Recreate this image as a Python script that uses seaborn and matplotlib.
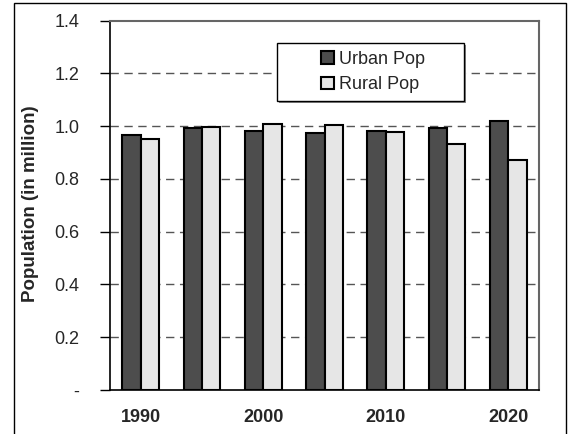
import matplotlib
matplotlib.use("Agg")
import matplotlib.pyplot as plt
import seaborn as sns
import pandas as pd
from matplotlib.patches import Rectangle
from matplotlib.ticker import FuncFormatter, FixedLocator

years = ["1990", "1995", "2000", "2005", "2010", "2015", "2020"]
tick_labels = ["1990", "", "2000", "", "2010", "", "2020"]
urban = [0.967, 0.992, 0.980, 0.975, 0.980, 0.994, 1.018]
rural = [0.952, 0.997, 1.010, 1.004, 0.977, 0.934, 0.872]
series = ["Urban Pop", "Rural Pop"]

df = pd.DataFrame({
    "year": years * 2,
    "value": urban + rural,
    "series": [series[0]] * len(years) + [series[1]] * len(years),
})

sns.set_style("white")
plt.rcParams["font.family"] = ["Liberation Sans", "DejaVu Sans"]

fig = plt.figure(figsize=(5.69, 4.34), dpi=100)
ax = fig.add_axes([110/569, 1 - 390/434, 429/569, (390-20.7)/434])

sns.barplot(data=df, x="year", y="value", hue="series", order=years,
            hue_order=series, palette=["#4d4d4d", "#e6e6e6"], width=0.6,
            edgecolor="black", linewidth=1.5, ax=ax, zorder=3, gap=0)

ax.set_xlim(-0.5, 6.5)
ax.set_ylim(0, 1.4)
ax.yaxis.set_major_locator(FixedLocator([0, 0.2, 0.4, 0.6, 0.8, 1.0, 1.2, 1.4]))
ax.yaxis.set_major_formatter(FuncFormatter(lambda v, p: "-" if abs(v) < 1e-9 else f"{v:.1f}"))
for yv in [0.2, 0.4, 0.6, 0.8, 1.0, 1.2]:
    ax.axhline(yv, color="#555555", linestyle=(0, (6, 4)), linewidth=1, zorder=1)

ax.set_xticks(range(len(years)))
ax.set_xticklabels(tick_labels, fontweight="bold", fontsize=13)
ax.tick_params(axis="x", length=0, pad=14)
ax.tick_params(axis="y", length=7, width=1, direction="out", labelsize=13, pad=15, left=True, color="black")
ax.set_xlabel("")
ax.set_ylabel("Population (in million)", fontweight="bold", fontsize=13.5)
ax.yaxis.set_label_coords(-0.165, 0.505)

for s in ["left", "bottom"]:
    ax.spines[s].set_color("black")
    ax.spines[s].set_linewidth(1.2)
for s in ["top", "right"]:
    ax.spines[s].set_color("#666666")
    ax.spines[s].set_linewidth(1.5)
    ax.spines[s].set_visible(True)

# legend frame with shadow
x0, x1 = (277-110)/429, (464-110)/429
yb, yt = (390-101)/369.3, (390-43)/369.3
dx, dy = 2/429, 2/369.3
ax.add_patch(Rectangle((x0 + dx, yb - dy), x1 - x0, yt - yb, transform=ax.transAxes,
                       facecolor="#888888", edgecolor="none", zorder=4, clip_on=False))
ax.add_patch(Rectangle((x0, yb), x1 - x0, yt - yb, transform=ax.transAxes,
                       facecolor="white", edgecolor="black", linewidth=1, zorder=4.5, clip_on=False))

leg = ax.legend(loc="center left", bbox_to_anchor=((321-110)/429, (390-72.3)/369.3), fontsize=13,
                frameon=False, handlelength=0.72, handleheight=0.72,
                handletextpad=0.25, borderpad=0, labelspacing=0.45,
                borderaxespad=0)
leg.set_zorder(5)

fig.patches.append(Rectangle((14/569, -0.05), (566-14)/569, 1.05 - 3.3/434,
                             transform=fig.transFigure, fill=False,
                             edgecolor="black", linewidth=1))

fig.savefig("out.png", dpi=100)
